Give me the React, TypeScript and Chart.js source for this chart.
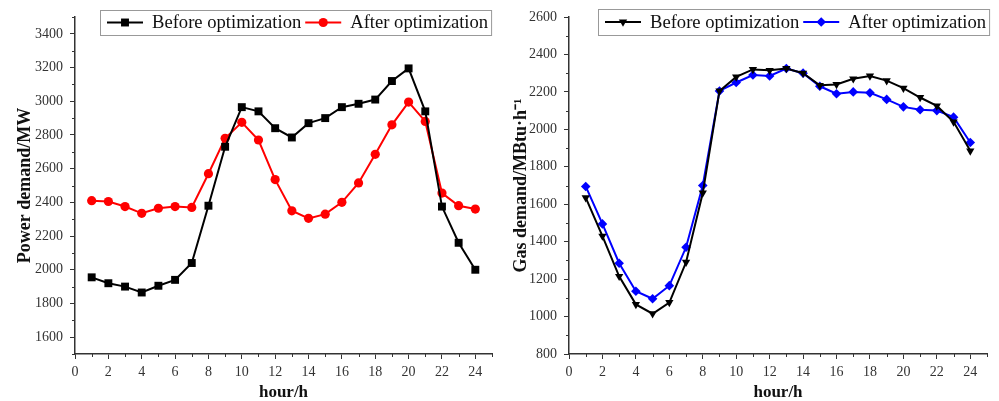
import React, { useEffect, useRef } from 'react';
import { Chart, registerables } from 'chart.js';

Chart.register(...registerables);

// ---------- data ----------
const hours = [1, 2, 3, 4, 5, 6, 7, 8, 9, 10, 11, 12, 13, 14, 15, 16, 17, 18, 19, 20, 21, 22, 23, 24];

const powerBefore = [1955, 1920, 1900, 1865, 1905, 1940, 2040, 2380, 2730, 2965, 2940, 2840, 2785, 2870, 2900, 2965, 2985, 3010, 3120, 3195, 2940, 2375, 2160, 2000];
const powerAfter = [2410, 2405, 2375, 2335, 2365, 2375, 2370, 2570, 2780, 2875, 2770, 2535, 2350, 2305, 2330, 2400, 2515, 2685, 2860, 2995, 2880, 2455, 2380, 2360];

const gasBefore = [1635, 1430, 1215, 1065, 1015, 1075, 1290, 1660, 2205, 2280, 2320, 2315, 2325, 2300, 2235, 2240, 2270, 2285, 2260, 2220, 2170, 2125, 2040, 1885];
const gasAfter = [1695, 1495, 1285, 1135, 1095, 1165, 1370, 1700, 2205, 2250, 2290, 2285, 2325, 2300, 2230, 2190, 2200, 2195, 2160, 2120, 2105, 2100, 2065, 1930];

const xTickValues = [0, 2, 4, 6, 8, 10, 12, 14, 16, 18, 20, 22, 24];
const powerTickValues = [1600, 1800, 2000, 2200, 2400, 2600, 2800, 3000, 3200, 3400];
const gasTickValues = [800, 1000, 1200, 1400, 1600, 1800, 2000, 2200, 2400, 2600];

const seriesLabels = ['Before optimization', 'After optimization'];

const SERIF = '"Liberation Serif", "Times New Roman", serif';
const AXIS_COLOR = '#333';

// ---------- helpers ----------
function drawMarker(ctx: CanvasRenderingContext2D, style: string, rotation: number, x: number, y: number, r: number) {
  ctx.beginPath();
  if (style === 'rect') {
    const s = Math.SQRT1_2 * r;
    ctx.rect(x - s, y - s, 2 * s, 2 * s);
  } else if (style === 'circle') {
    ctx.arc(x, y, r, 0, Math.PI * 2);
  } else if (style === 'triangle') {
    let rad = (rotation * Math.PI) / 180;
    ctx.moveTo(x + Math.sin(rad) * r, y - Math.cos(rad) * r);
    rad += (2 * Math.PI) / 3;
    ctx.lineTo(x + Math.sin(rad) * r, y - Math.cos(rad) * r);
    rad += (2 * Math.PI) / 3;
    ctx.lineTo(x + Math.sin(rad) * r, y - Math.cos(rad) * r);
    ctx.closePath();
  } else if (style === 'rectRot') {
    ctx.moveTo(x - r, y);
    ctx.lineTo(x, y - r);
    ctx.lineTo(x + r, y);
    ctx.lineTo(x, y + r);
    ctx.closePath();
  }
  ctx.fill();
}

const minorTicksPlugin = {
  id: 'minorTicks',
  afterDraw(chart: any, _args: any, opts: any) {
    const ctx = chart.ctx as CanvasRenderingContext2D;
    ctx.save();
    ctx.strokeStyle = AXIS_COLOR;
    ctx.lineWidth = 1;
    const len = opts.len ?? 3;
    const xs = chart.scales.x;
    const ys = chart.scales.y;
    const xMajor = xs.ticks.map((t: any) => t.value);
    for (let v = xs.min; v <= xs.max + 1e-9; v += opts.xStep) {
      if (xMajor.some((m: number) => Math.abs(m - v) < 1e-6)) continue;
      const px = Math.round(xs.getPixelForValue(v)) + 0.5;
      ctx.beginPath();
      ctx.moveTo(px, xs.top);
      ctx.lineTo(px, xs.top + len);
      ctx.stroke();
    }
    const yMajor = ys.ticks.map((t: any) => t.value);
    for (let v = ys.min; v <= ys.max + 1e-9; v += opts.yStep) {
      if (yMajor.some((m: number) => Math.abs(m - v) < 1e-6)) continue;
      const py = Math.round(ys.getPixelForValue(v)) + 0.5;
      ctx.beginPath();
      ctx.moveTo(ys.right, py);
      ctx.lineTo(ys.right - len, py);
      ctx.stroke();
    }
    ctx.restore();
  },
};

const boxLegendPlugin = {
  id: 'boxLegend',
  afterDraw(chart: any, _args: any, opts: any) {
    const ctx = chart.ctx as CanvasRenderingContext2D;
    ctx.save();
    ctx.font = `${opts.fontSize}px ${SERIF}`;
    const ds = chart.data.datasets;
    const sample = 36;
    const gapAfterSample = 9;
    const gapBetween = 4;
    const padL = 7;
    const padR = 3;
    const widths = ds.map((d: any) => ctx.measureText(d.label).width);
    let totalW = padL + padR;
    ds.forEach((_d: any, i: number) => {
      totalW += sample + gapAfterSample + widths[i] + (i < ds.length - 1 ? gapBetween : 0);
    });
    const x0 = opts.left;
    const y0 = opts.top;
    const h = opts.height;
    ctx.fillStyle = '#fff';
    ctx.fillRect(x0, y0, totalW, h);
    ctx.strokeStyle = '#999';
    ctx.lineWidth = 1;
    ctx.strokeRect(x0 + 0.5, y0 + 0.5, totalW, h);
    let cx = x0 + padL;
    const cy = y0 + h / 2;
    ds.forEach((d: any, i: number) => {
      ctx.strokeStyle = d.borderColor;
      ctx.lineWidth = d.borderWidth;
      ctx.beginPath();
      ctx.moveTo(cx, cy);
      ctx.lineTo(cx + sample, cy);
      ctx.stroke();
      ctx.fillStyle = d.pointBackgroundColor;
      drawMarker(ctx, d.pointStyle, d.pointRotation || 0, cx + sample / 2, cy, d.pointRadius);
      cx += sample + gapAfterSample;
      ctx.fillStyle = '#111';
      ctx.textBaseline = 'middle';
      ctx.textAlign = 'left';
      ctx.fillText(d.label, cx, cy + 1);
      cx += widths[i] + gapBetween;
    });
    ctx.restore();
  },
};

type PanelProps = {
  width: number;
  height: number;
  yWidth: number;
  padRight: number;
  yMin: number;
  yMax: number;
  yTicks: number[];
  yTitle: string;
  yTitlePad: number;
  datasets: any[];
  legend: { left: number; top: number; height: number };
};

function Panel(p: PanelProps) {
  const ref = useRef<HTMLCanvasElement | null>(null);
  useEffect(() => {
    if (!ref.current) return;
    const chart = new Chart(ref.current, {
      type: 'line',
      data: { datasets: p.datasets },
      options: {
        animation: false,
        responsive: false,
        devicePixelRatio: 1,
        layout: { padding: { left: 0, right: p.padRight, top: 17, bottom: 0 } },
        plugins: {
          legend: { display: false },
          tooltip: { enabled: false },
          minorTicks: { xStep: 1, yStep: 100, len: 3 },
          boxLegend: { ...p.legend, fontSize: 18.6 },
        } as any,
        scales: {
          x: {
            type: 'linear',
            min: 0,
            max: 25,
            afterBuildTicks: (s: any) => {
              s.ticks = xTickValues.map((v) => ({ value: v }));
            },
            afterFit: (s: any) => {
              s.height = 47;
            },
            grid: { drawOnChartArea: false, drawTicks: true, tickLength: 5, tickColor: AXIS_COLOR, tickWidth: 1 },
            border: { display: true, color: AXIS_COLOR, width: 1.5 },
            ticks: {
              font: { family: SERIF, size: 14 },
              color: '#333',
              padding: 5,
              maxRotation: 0,
              autoSkip: false,
              callback: (v: any) => String(v),
            },
            title: {
              display: true,
              text: 'hour/h',
              font: { family: SERIF, size: 17, weight: 'bold', lineHeight: 1 },
              color: '#111',
              padding: { top: 0, bottom: 0 },
            },
          },
          y: {
            type: 'linear',
            min: p.yMin,
            max: p.yMax,
            afterBuildTicks: (s: any) => {
              s.ticks = p.yTicks.map((v) => ({ value: v }));
            },
            afterFit: (s: any) => {
              s.width = p.yWidth;
            },
            grid: { drawOnChartArea: false, drawTicks: true, tickLength: 5, tickColor: AXIS_COLOR, tickWidth: 1 },
            border: { display: true, color: AXIS_COLOR, width: 1.5 },
            ticks: {
              font: { family: SERIF, size: 14 },
              color: '#333',
              padding: 7,
              autoSkip: false,
              callback: (v: any) => String(v),
            },
            title: {
              display: true,
              text: p.yTitle,
              font: { family: SERIF, size: 18, weight: 'bold', lineHeight: 1 },
              color: '#111',
              padding: { top: p.yTitlePad, bottom: 0 },
            },
          },
        },
      },
      plugins: [minorTicksPlugin, boxLegendPlugin],
    });
    return () => chart.destroy();
  }, []);
  return <canvas ref={ref} width={p.width} height={p.height} style={{ display: 'block', width: p.width, height: p.height }} />;
}

function makeDs(label: string, values: number[], color: string, style: string, radius: number, rotation = 0) {
  return {
    label,
    data: hours.map((h, i) => ({ x: h, y: values[i] })),
    borderColor: color,
    backgroundColor: color,
    pointBackgroundColor: color,
    pointBorderColor: color,
    pointBorderWidth: 0,
    borderWidth: 2,
    pointStyle: style,
    pointRotation: rotation,
    pointRadius: radius,
    tension: 0,
  };
}

export default function App() {
  const leftDs = [
    makeDs(seriesLabels[0], powerBefore, '#000000', 'rect', 5.6),
    makeDs(seriesLabels[1], powerAfter, '#ff0000', 'circle', 4.6),
  ];
  const rightDs = [
    makeDs(seriesLabels[0], gasBefore, '#000000', 'triangle', 4.8, 180),
    makeDs(seriesLabels[1], gasAfter, '#0000ff', 'rectRot', 4.8),
  ];
  return (
    <div style={{ position: 'absolute', left: 0, top: 0, width: 999, height: 401, background: '#fff' }}>
      <div style={{ position: 'absolute', left: 0, top: 0 }}>
        <Panel
          width={500}
          height={401}
          yWidth={75}
          padRight={8}
          yMin={1500}
          yMax={3500}
          yTicks={powerTickValues}
          yTitle="Power demand/MW"
          yTitlePad={16}
          datasets={leftDs}
          legend={{ left: 100, top: 10, height: 25 }}
        />
      </div>
      <div style={{ position: 'absolute', left: 500, top: 0 }}>
        <Panel
          width={499}
          height={401}
          yWidth={69}
          padRight={12}
          yMin={800}
          yMax={2600}
          yTicks={gasTickValues}
          yTitle="Gas demand/MBtu·h⁻¹"
          yTitlePad={12}
          datasets={rightDs}
          legend={{ left: 98, top: 9, height: 26 }}
        />
      </div>
    </div>
  );
}
